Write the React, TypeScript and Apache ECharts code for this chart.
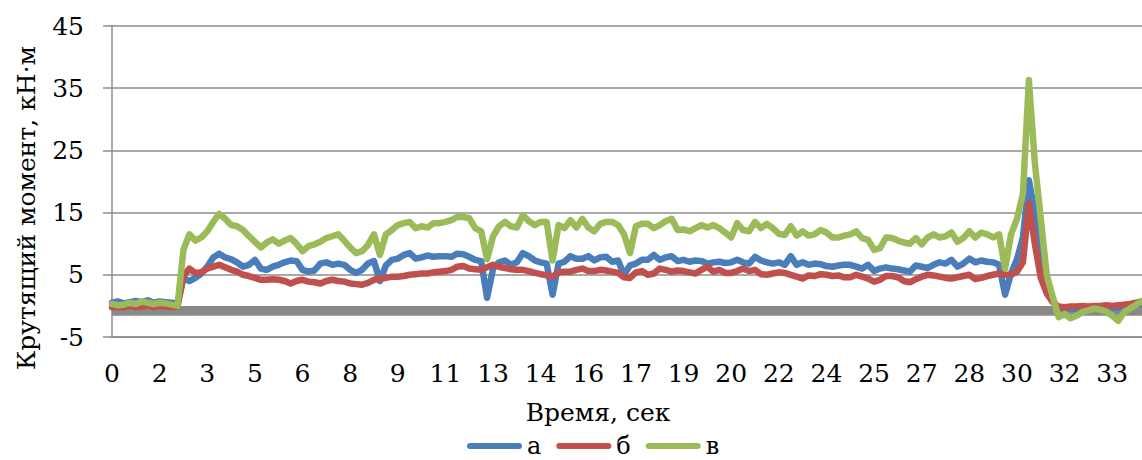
import React, { useEffect, useRef } from 'react';
import * as echarts from 'echarts';

// Time-axis tick labels (seconds), one every SAMPLES_PER_TICK samples
const tickLabels = ['0', '2', '3', '5', '6', '8', '9', '11', '13', '14', '16', '17', '19', '20', '22', '24', '25', '27', '28', '30', '32', '33'];
const SAMPLES_PER_TICK = 8;

// Torque axis ticks, kN·m
const yTicks = [-5, 5, 15, 25, 35, 45];

const seriesNames = ['а', 'б', 'в'];
const seriesColors = ['#4a7ebb', '#c0504d', '#9bbb59'];

// Torque readings, kN·m
const torqueA = [
  0.5, 0.7, 0.4, 0.6, 0.8, 0.6, 0.9, 0.5, 0.7, 0.6, 0.5, 0.4,
  4.5, 4.0, 4.5, 5.2, 6.3, 7.8, 8.4, 7.8, 7.5, 7.0,
  6.3, 6.6, 7.4, 6.0, 5.8, 6.3, 6.6, 7.0, 7.3, 7.2, 5.8, 5.5, 5.7, 6.8, 7.0, 6.6, 6.8, 6.6, 5.8, 5.3, 5.8, 6.8, 7.2,
  4.0, 6.5, 7.4, 7.6, 8.2, 8.5, 7.6, 7.8, 8.1, 7.9, 8.0, 8.0, 7.9, 8.4, 8.3, 7.9, 7.4, 7.2, 1.3, 6.0, 7.0, 7.3,
  6.6, 7.0, 8.5, 8.0, 7.3, 7.0, 6.8, 1.8, 6.8, 7.1, 8.0, 7.6, 7.6, 8.0, 7.3, 7.8, 7.9, 7.1, 7.3, 5.0, 6.5, 6.8, 7.4,
  7.4, 8.2, 7.4, 7.8, 8.0, 7.2, 7.4, 7.1, 7.3, 7.2, 6.8, 7.0, 7.1, 6.9, 7.0, 7.4, 7.0, 6.8, 7.9, 7.3, 7.0, 6.8, 7.0,
  6.6, 8.0, 6.6, 7.0, 6.6, 6.8, 6.7, 6.4, 6.3, 6.5, 6.6, 6.6, 6.3, 6.0, 6.6, 5.6, 6.0, 6.2, 6.0, 5.9, 5.7, 5.5,
  6.5, 6.3, 6.1, 6.6, 7.0, 6.8, 7.4, 6.3, 6.8, 7.6, 7.0, 7.3, 7.1, 7.0, 6.6, 1.8, 5.2, 7.5, 11.0, 20.2, 15.0, 7.0, 3.0, 0.8,
  -0.5, -0.6, -0.4, -0.5, -0.4, -0.5, -0.3, -0.4, -0.3, -0.4, -0.3, -0.1, 0.0, 0.2, 0.4,
];

const torqueB = [
  -0.2, -0.1, -0.2, 0.0, -0.2, -0.1, 0.1, -0.2, 0.0, -0.1, -0.2, -0.1,
  4.8, 6.0, 5.3, 5.4, 6.0, 6.3, 6.6, 6.2, 5.8, 5.5,
  5.0, 4.8, 4.5, 4.2, 4.2, 4.3, 4.2, 4.0, 3.6, 4.0, 4.2, 3.9, 3.8, 3.6, 4.0, 4.2, 4.0, 3.9, 3.6, 3.5, 3.4, 3.7, 4.2,
  4.4, 4.5, 4.7, 4.7, 4.8, 5.0, 5.1, 5.2, 5.2, 5.4, 5.5, 5.6, 5.8, 6.3, 6.4, 6.0, 5.9, 5.8, 6.2, 6.6, 6.3, 6.1,
  5.9, 5.8, 5.8, 5.6, 5.3, 5.1, 4.9, 4.7, 5.4, 5.5, 5.5, 5.8, 6.0, 5.6, 5.6, 5.8, 5.7, 5.5, 5.3, 4.6, 4.5, 5.4, 5.6,
  5.0, 5.2, 6.0, 5.8, 5.5, 5.7, 5.6, 5.4, 5.2, 5.8, 6.3, 5.5, 5.8, 5.3, 5.3, 5.6, 6.0, 5.6, 5.8, 5.1, 5.0, 5.2, 5.4,
  5.3, 5.0, 4.7, 4.4, 4.9, 4.8, 5.1, 5.0, 4.8, 4.9, 4.6, 4.6, 5.0, 4.7, 4.4, 3.9, 4.2, 4.8, 4.8, 4.6, 4.0, 3.8,
  4.3, 4.7, 5.0, 4.9, 4.7, 4.5, 4.4, 4.6, 4.8, 5.0, 4.3, 4.5, 4.8, 5.0, 5.2, 5.0, 5.0, 5.5, 7.0, 16.5, 10.0, 4.5, 2.0, 0.6,
  -0.1, -0.2, -0.1, -0.1, 0.0, -0.1, 0.0, 0.0, 0.1, 0.0, 0.1, 0.2, 0.3, 0.5, 0.7,
];

const torqueC = [
  0.3, 0.1, 0.2, 0.5, 0.3, 0.7, 0.5, 0.3, 0.5, 0.4, 0.2, 0.0,
  9.0, 11.5, 10.5, 11.0, 12.0, 13.5, 14.8, 14.0, 13.0, 12.8,
  12.2, 11.2, 10.3, 9.4, 10.2, 10.7, 10.0, 10.5, 10.9, 10.0, 8.8, 9.6, 9.9, 10.3, 10.9, 11.2, 11.5, 10.5, 9.4, 8.5, 8.8, 9.8, 11.5,
  8.2, 11.5, 12.2, 13.0, 13.3, 13.5, 12.5, 12.8, 12.6, 13.3, 13.3, 13.5, 13.8, 14.3, 14.3, 14.1, 12.5, 12.0, 7.5, 11.2, 12.8, 13.5,
  12.8, 12.6, 14.6, 13.6, 13.0, 13.5, 13.5, 7.3, 13.0, 12.5, 13.8, 12.6, 14.0, 12.6, 12.0, 13.2, 13.5, 13.5, 13.0, 11.5, 8.5, 12.8, 13.2,
  13.2, 12.5, 13.0, 13.6, 14.0, 12.2, 12.3, 12.0, 12.5, 13.0, 12.6, 13.0, 12.5, 11.8, 11.0, 13.3, 12.2, 12.0, 13.5, 12.5, 13.2, 12.5, 11.6,
  11.4, 12.8, 11.3, 12.0, 11.3, 11.5, 12.2, 11.8, 11.0, 11.0, 11.3, 11.5, 12.0, 10.9, 10.6, 9.0, 9.3, 11.0, 10.9, 10.5, 10.2, 10.0,
  10.9, 9.9, 11.0, 11.5, 11.0, 11.2, 11.8, 10.3, 10.9, 12.0, 11.0, 11.8, 11.5, 11.0, 11.5, 6.0, 11.5, 14.0, 18.0, 36.3, 23.0, 14.0, 5.0, 1.5,
  -1.8, -1.3, -2.0, -1.6, -1.0, -0.7, -0.4, -0.6, -0.9, -1.6, -2.4, -1.0, -0.4, 0.2, 0.8,
];

// Thick grey zero band (from, to), kN·m
const zeroBand = [0, -1.6];

const FONT = 'DejaVu Serif';
const GRID_GREY = '#8c8c8c';

export default function App() {
  const ref = useRef<HTMLDivElement>(null);

  useEffect(() => {
    const chart = echarts.init(ref.current!, null, { renderer: 'svg' });
    const categories = torqueA.map((_, i) => String(i));
    const values = [torqueA, torqueB, torqueC];

    chart.setOption({
      animation: false,
      grid: { left: 112, right: 0, top: 26, bottom: 123 },
      xAxis: {
        type: 'category',
        data: categories,
        boundaryGap: false,
        axisLine: { onZero: false, lineStyle: { color: GRID_GREY, width: 1.5 } },
        axisTick: { show: false },
        axisLabel: {
          interval: SAMPLES_PER_TICK - 1,
          formatter: (_v: string, idx: number) => tickLabels[idx / SAMPLES_PER_TICK] ?? '',
          fontFamily: FONT,
          fontSize: 25,
          color: '#000',
          margin: 24,
        },
        splitLine: { show: false },
      },
      yAxis: {
        type: 'value',
        min: -5,
        max: 45,
        axisLine: { show: true, lineStyle: { color: GRID_GREY, width: 1.5 } },
        axisTick: { show: true, inside: false, length: 9, customValues: yTicks, lineStyle: { color: GRID_GREY, width: 1.5 } },
        axisLabel: {
          customValues: yTicks,
          fontFamily: FONT,
          fontSize: 25,
          color: '#000',
          margin: 28,
        },
        splitLine: { show: true, lineStyle: { color: GRID_GREY, width: 1.5 } },
      },
      legend: {
        left: 467,
        top: 434,
        padding: 0,
        itemWidth: 55,
        itemHeight: 6,
        itemGap: 15,
        icon: 'path://M3,0 H52 A3,3 0 0 1 52,6 H3 A3,3 0 0 1 3,0 Z',
        textStyle: { fontFamily: FONT, fontSize: 24, lineHeight: 24, color: '#000' },
        data: seriesNames,
      },
      graphic: [
        {
          type: 'text',
          x: 26,
          y: 208,
          rotation: Math.PI / 2,
          style: {
            text: 'Крутящий момент, кН·м',
            font: '25px "DejaVu Serif"',
            fill: '#000',
            align: 'center',
            verticalAlign: 'middle',
          },
        },
        {
          type: 'text',
          x: 598,
          y: 412,
          style: {
            text: 'Время, сек',
            font: '25px "DejaVu Serif"',
            fill: '#000',
            align: 'center',
            verticalAlign: 'middle',
          },
        },
      ],
      series: values.map((data, k) => ({
        name: seriesNames[k],
        type: 'line',
        data,
        showSymbol: false,
        symbol: 'none',
        lineStyle: { color: seriesColors[k], width: 6.5, join: 'round', cap: 'round' },
        itemStyle: { color: seriesColors[k] },
        ...(k === 0
          ? {
              markArea: {
                silent: true,
                itemStyle: { color: '#898989' },
                data: [[{ yAxis: zeroBand[0] }, { yAxis: zeroBand[1] }]],
              },
            }
          : {}),
      })),
    });

    return () => chart.dispose();
  }, []);

  return <div ref={ref} style={{ position: 'absolute', left: 0, top: 0, width: 1142, height: 460 }} />;
}
